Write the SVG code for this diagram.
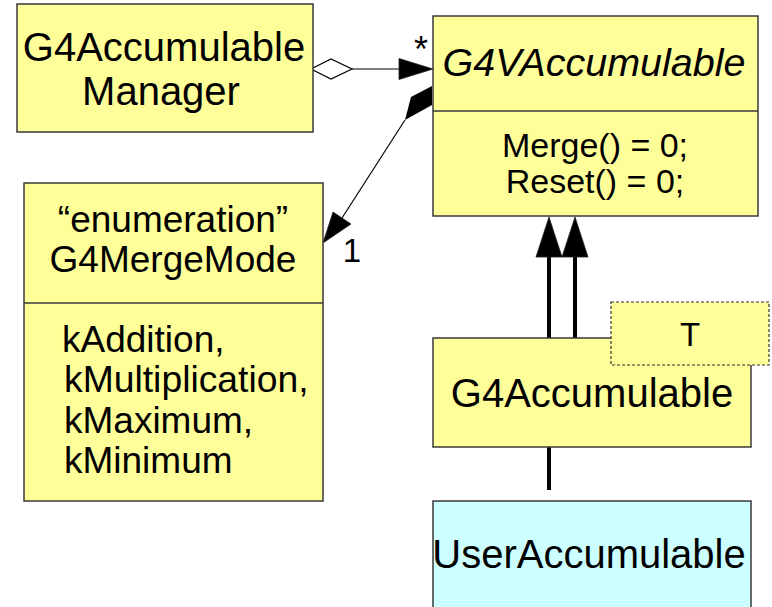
<svg xmlns="http://www.w3.org/2000/svg" width="772" height="607" viewBox="0 0 772 607">
  <style>
    .cls { fill: #ffff99; stroke: #3a3a3a; stroke-width: 1.5; }
    .user { fill: #ccffff; stroke: #3a3a3a; stroke-width: 1.5; }
    .tmpl { fill: #ffff99; stroke: #333; stroke-width: 1.2; stroke-dasharray: 3 2; }
    .sep { stroke: #3a3a3a; stroke-width: 1.5; }
    text { font-family: "Liberation Sans", Arial, sans-serif; fill: #000; }
    .c { text-anchor: middle; }
    .thin { stroke: #000; stroke-width: 1.2; fill: none; }
    .thick { stroke: #000; stroke-width: 4; fill: none; }
    .head { fill: #000; stroke: #222; stroke-width: 0.8; }
  </style>
  <rect width="772" height="607" fill="#ffffff"/>

  <!-- connectors -->
  <g id="connectors">
    <!-- manager aggregates accumulables -->
    <polygon points="311,69 331,59 352,69 331,79" fill="#fff" stroke="#000" stroke-width="1.2"/>
    <line class="thin" x1="352" y1="69" x2="400" y2="69"/>
    <polygon class="head" points="433,69 399,58.5 399,79.5"/>
    <text x="421" y="62" class="c" font-size="36">*</text>
    <!-- accumulable composes merge mode -->
    <polygon points="432,86 411,97 405,120 432,105" fill="#000"/>
    <line class="thin" x1="405" y1="120" x2="342" y2="218"/>
    <polygon class="head" points="323,243 333,212 351,224"/>
    <text x="352" y="262" class="c" font-size="33">1</text>
    <!-- inheritance -->
    <line class="thick" x1="549" y1="338" x2="549" y2="254"/>
    <line class="thick" x1="575" y1="338" x2="575" y2="254"/>
    <polygon class="head" points="549,217 536,257 562,257"/>
    <polygon class="head" points="575,217 562,257 588,257"/>
    <line class="thick" x1="549" y1="447" x2="549" y2="490"/>
  </g>

  <g id="G4AccumulableManager">
    <rect class="cls" x="17" y="4" width="296" height="128"/>
    <text x="164" y="61" class="c" font-size="40">G4Accumulable</text>
    <text x="161" y="105" class="c" font-size="40">Manager</text>
  </g>

  <g id="G4VAccumulable">
    <rect class="cls" x="433" y="16" width="325" height="200"/>
    <line class="sep" x1="433" y1="111" x2="758" y2="111"/>
    <text x="594" y="76" class="c" font-size="39.5" font-style="italic">G4VAccumulable</text>
    <text x="595" y="157" class="c" font-size="34">Merge() = 0;</text>
    <text x="595" y="193" class="c" font-size="34">Reset() = 0;</text>
  </g>

  <g id="G4MergeMode">
    <rect class="cls" x="24" y="183" width="299" height="318"/>
    <line class="sep" x1="24" y1="303" x2="323" y2="303"/>
    <text x="173" y="232" class="c" font-size="37">“enumeration”</text>
    <text x="173" y="272" class="c" font-size="37">G4MergeMode</text>
    <text x="62" y="352" font-size="37">kAddition,</text>
    <text x="64" y="392" font-size="37.3">kMultiplication,</text>
    <text x="64" y="433" font-size="37">kMaximum,</text>
    <text x="64" y="473" font-size="37">kMinimum</text>
  </g>

  <g id="G4Accumulable">
    <rect class="cls" x="433" y="338" width="318" height="109"/>
    <text x="592" y="407" class="c" font-size="40">G4Accumulable</text>
    <rect class="tmpl" x="611" y="302" width="158" height="63"/>
    <text x="690" y="346" class="c" font-size="33">T</text>
  </g>

  <g id="UserAccumulable">
    <rect class="user" x="433" y="501" width="318" height="120"/>
    <text x="589" y="568" class="c" font-size="40">UserAccumulable</text>
  </g>
</svg>
